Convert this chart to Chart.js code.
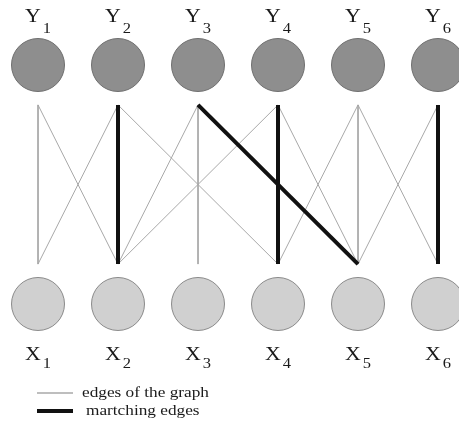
<!DOCTYPE html>
<html>
<head>
<meta charset="utf-8">
<script src="https://cdn.jsdelivr.net/npm/chart.js@4/dist/chart.umd.min.js"></script>
<style>
  html, body { margin: 0; padding: 0; background: #fff; }
  #graph { display: block; }
</style>
</head>
<body>
<canvas id="graph" width="459" height="432"></canvas>
<script>
// colonnes des sommets (1..6)
var columns = [1, 2, 3, 4, 5, 6];
var topNames = ["Y", "Y", "Y", "Y", "Y", "Y"];
var bottomNames = ["X", "X", "X", "X", "X", "X"];
var subscripts = ["1", "2", "3", "4", "5", "6"];

// arêtes du graphe : [indice Y, indice X]
var graphEdges = [
  [1, 1], [1, 2], [2, 1], [2, 4], [3, 2], [3, 3],
  [4, 2], [4, 5], [5, 4], [5, 5], [5, 6], [6, 5]
];
// arêtes du couplage
var matchingEdges = [[2, 2], [3, 5], [4, 4], [6, 6]];

var legendLabels = ["edges of the graph", "martching edges"];

// niveaux verticaux (valeurs de l'axe y)
var TOP_ROW = 1, BOTTOM_ROW = 0;
var EDGE_TOP = 0.833, EDGE_BOTTOM = 0.167;

function edgeDataset(edge, matched) {
  return {
    type: "scatter",
    showLine: true,
    data: [{ x: edge[0], y: EDGE_TOP }, { x: edge[1], y: EDGE_BOTTOM }],
    borderColor: matched ? "#111111" : "#a8a8a8",
    borderWidth: matched ? 4 : 1,
    pointRadius: 0,
    clip: false,
    order: matched ? 2 : 3,
  };
}

var datasets = [];
graphEdges.forEach(function (e) { datasets.push(edgeDataset(e, false)); });
matchingEdges.forEach(function (e) { datasets.push(edgeDataset(e, true)); });

// sommets Y (haut) et X (bas)
datasets.push({
  type: "scatter",
  data: columns.map(function (c) { return { x: c, y: TOP_ROW }; }),
  pointRadius: 26.5,
  pointHoverRadius: 26.5,
  backgroundColor: "#8e8e8e",
  borderColor: "#6f6f6f",
  borderWidth: 1,
  clip: false,
  order: 1,
});
datasets.push({
  type: "scatter",
  data: columns.map(function (c) { return { x: c, y: BOTTOM_ROW }; }),
  pointRadius: 26.5,
  pointHoverRadius: 26.5,
  backgroundColor: "#d0d0d0",
  borderColor: "#8a8a8a",
  borderWidth: 1,
  clip: false,
  order: 1,
});

var FONT = "'Liberation Serif', 'DejaVu Serif', serif";

function drawLabel(ctx, cx, baseline, main, sub, drop) {
  ctx.save();
  ctx.font = "19px " + FONT;
  var w1 = ctx.measureText(main).width * 1.15;
  ctx.font = "15px " + FONT;
  var w2 = ctx.measureText(sub).width * 1.1;
  var x0 = cx - (w1 + 2 + w2) / 2;
  ctx.fillStyle = "#1a1a1a";
  ctx.textBaseline = "alphabetic";
  ctx.textAlign = "left";
  ctx.save();
  ctx.translate(x0, baseline);
  ctx.scale(1.15, 1);
  ctx.font = "19px " + FONT;
  ctx.fillText(main, 0, 0);
  ctx.restore();
  ctx.save();
  ctx.translate(x0 + w1 + 2, baseline + drop);
  ctx.scale(1.1, 1);
  ctx.font = "15px " + FONT;
  ctx.fillText(sub, 0, 0);
  ctx.restore();
  ctx.restore();
}

var labelsPlugin = {
  id: "nodeLabels",
  afterDatasetsDraw: function (chart) {
    var ctx = chart.ctx;
    var xs = chart.scales.x, ys = chart.scales.y;
    var topY = ys.getPixelForValue(TOP_ROW);
    var botY = ys.getPixelForValue(BOTTOM_ROW);
    columns.forEach(function (c, i) {
      var px = xs.getPixelForValue(c);
      drawLabel(ctx, px, topY - 43, topNames[i], subscripts[i], 11);
      drawLabel(ctx, px, botY + 56, bottomNames[i], subscripts[i], 8);
    });

    // légende
    ctx.save();
    ctx.lineCap = "butt";
    ctx.strokeStyle = "#a8a8a8";
    ctx.lineWidth = 1.5;
    ctx.beginPath(); ctx.moveTo(37, 393); ctx.lineTo(73, 393); ctx.stroke();
    ctx.strokeStyle = "#111111";
    ctx.lineWidth = 4;
    ctx.beginPath(); ctx.moveTo(37, 411); ctx.lineTo(73, 411); ctx.stroke();
    ctx.fillStyle = "#1a1a1a";
    ctx.font = "15px " + FONT;
    ctx.textBaseline = "middle";
    ctx.save(); ctx.translate(82, 393); ctx.scale(1.15, 1); ctx.fillText(legendLabels[0], 0, 0); ctx.restore();
    ctx.save(); ctx.translate(86, 411); ctx.scale(1.15, 1); ctx.fillText(legendLabels[1], 0, 0); ctx.restore();
    ctx.restore();
  },
};

var graphChart = new Chart(document.getElementById("graph").getContext("2d"), {
  type: "scatter",
  data: { datasets: datasets },
  options: {
    responsive: false,
    animation: false,
    events: [],
    layout: { padding: 0, autoPadding: false },
    plugins: {
      legend: { display: false },
      tooltip: { enabled: false },
    },
    scales: {
      x: { type: "linear", display: false, min: 0.525, max: 6.2625 },
      y: { type: "linear", display: false, min: -0.5356, max: 1.272 },
    },
  },
  plugins: [labelsPlugin],
});
</script>
</body>
</html>
